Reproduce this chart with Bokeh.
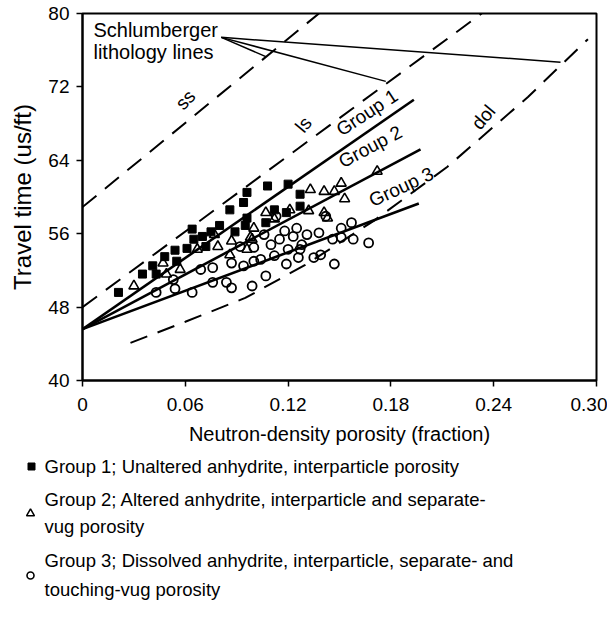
from bokeh.plotting import figure
from bokeh.models import FixedTicker, Range1d
from bokeh.layouts import column
from bokeh.core.properties import value
from bokeh.embed import file_html
from bokeh.resources import INLINE
import math

FONT = "Liberation Sans"

# ---------------- data ----------------
x_ticks = [0, 0.06, 0.12, 0.18, 0.24, 0.30]
x_tick_labels = ["0", "0.06", "0.12", "0.18", "0.24", "0.30"]
y_ticks = [40, 48, 56, 64, 72, 80]

g1_x = [0.021, 0.035, 0.041, 0.043, 0.048, 0.054, 0.055, 0.061, 0.064, 0.065,
        0.070, 0.072, 0.075, 0.080, 0.086, 0.089, 0.094, 0.096, 0.096, 0.095,
        0.108, 0.107, 0.112, 0.120, 0.127, 0.127, 0.119]
g1_y = [49.6, 51.6, 52.5, 51.6, 53.5, 54.2, 53.0, 54.4, 56.5, 55.4,
        55.7, 54.6, 56.2, 56.9, 58.6, 56.2, 59.4, 60.5, 57.7, 56.9,
        61.2, 57.2, 58.6, 61.4, 60.3, 59.0, 58.3]

g2_x = [0.030, 0.047, 0.049, 0.057, 0.067, 0.079, 0.077, 0.087, 0.086, 0.096,
        0.100, 0.107, 0.112, 0.121, 0.133, 0.132, 0.099, 0.141, 0.147, 0.151,
        0.153, 0.141, 0.143, 0.172, 0.098]
g2_y = [50.3, 52.8, 51.6, 52.1, 54.3, 54.6, 55.9, 55.2, 53.7, 54.3,
        56.6, 58.3, 57.6, 58.6, 60.8, 58.5, 55.4, 60.6, 60.6, 61.5,
        59.8, 58.3, 57.7, 62.8, 55.6]

g3_x = [0.043, 0.054, 0.053, 0.064, 0.069, 0.076, 0.076, 0.084, 0.087, 0.087,
        0.094, 0.099, 0.100, 0.104, 0.107, 0.112, 0.119, 0.120, 0.126, 0.127,
        0.135, 0.131, 0.123, 0.118, 0.125, 0.138, 0.110, 0.115, 0.106, 0.100,
        0.092, 0.113, 0.128, 0.139, 0.147, 0.151, 0.157, 0.151, 0.146, 0.158,
        0.167, 0.142]
g3_y = [49.6, 50.0, 51.0, 49.6, 52.1, 52.3, 50.7, 50.7, 50.1, 52.8,
        52.5, 50.3, 53.0, 53.2, 51.4, 53.6, 52.7, 54.3, 53.4, 54.3,
        53.4, 55.9, 55.7, 56.3, 56.6, 56.1, 54.8, 55.4, 55.9, 54.5,
        54.6, 57.9, 54.8, 53.7, 52.7, 56.6, 57.2, 55.6, 55.4, 55.4,
        55.0, 57.9]

# regression lines (start, end)
fit1_x = [0.0, 0.1934]
fit1_y = [45.6, 70.6]
fit2_x = [0.0, 0.1973]
fit2_y = [45.6, 65.2]
fit3_x = [0.0, 0.1963]
fit3_y = [45.6, 59.3]

# Schlumberger lithology lines
ss_x = [0.0, 0.138]
ss_y = [58.9, 80.0]
ls_x = [0.0, 0.233]
ls_y = [48.0, 80.0]
dol_x = [0.028, 0.060, 0.095, 0.130, 0.170, 0.213, 0.260, 0.295]
dol_y = [44.1, 46.4, 49.0, 52.6, 57.4, 63.3, 70.9, 77.2]

# annotation pointer lines: origin and targets on ss, ls, dol
ptr_origin = (0.081, 77.4)
ptr_targets_x = [0.107, 0.177, 0.279]
ptr_targets_y = [75.3, 72.6, 74.7]

legend_labels = [
    ["Group 1; Unaltered anhydrite, interparticle porosity"],
    ["Group 2;  Altered anhydrite, interparticle and separate-", "vug porosity"],
    ["Group 3; Dissolved anhydrite, interparticle, separate- and", "touching-vug porosity"],
]

# ---------------- main figure ----------------
p = figure(width=607, height=450, x_range=Range1d(0, 0.30), y_range=Range1d(40, 80),
           output_backend="svg", toolbar_location=None,
           min_border_left=82, min_border_right=11, min_border_top=13, min_border_bottom=70)
p.frame_align = False
p.background_fill_color = "white"
p.border_fill_color = "white"
p.outline_line_color = "black"
p.outline_line_width = 2
p.grid.visible = False

p.xaxis.ticker = FixedTicker(ticks=x_ticks)
p.xaxis.major_label_overrides = {t: l for t, l in zip(x_ticks, x_tick_labels)}
p.yaxis.ticker = FixedTicker(ticks=y_ticks)
for ax in (p.xaxis, p.yaxis):
    ax.axis_line_width = 2
    ax.axis_line_color = "black"
    ax.major_tick_line_width = 1.5
    ax.major_tick_line_color = "black"
    ax.major_tick_in = 0
    ax.major_tick_out = 6
    ax.minor_tick_line_color = None
    ax.major_label_text_font = FONT
    ax.major_label_text_font_size = "19px"
    ax.major_label_text_color = "black"
    ax.axis_label_text_font = FONT
    ax.axis_label_text_font_style = "normal"
    ax.axis_label_text_color = "black"
p.xaxis.axis_label = "Neutron-density porosity (fraction)"
p.yaxis.axis_label = "Travel time (us/ft)"
p.xaxis.axis_label_text_font_size = "20px"
p.yaxis.axis_label_text_font_size = "24px"
p.xaxis.major_label_standoff = 11
p.yaxis.major_label_standoff = 7
p.xaxis.axis_label_standoff = 9
p.yaxis.axis_label_standoff = 9

dash = "18 11"
p.line(ss_x, ss_y, line_color="black", line_width=2, line_dash=dash)
p.line(ls_x, ls_y, line_color="black", line_width=2, line_dash=dash)
p.line(dol_x, dol_y, line_color="black", line_width=2, line_dash=dash)

for tx, ty in zip(ptr_targets_x, ptr_targets_y):
    p.line([ptr_origin[0], tx], [ptr_origin[1], ty], line_color="black", line_width=1.5)

p.scatter(g3_x, g3_y, marker="circle", size=9, line_color="black", line_width=1.8,
          fill_color=None)
p.scatter(g2_x, g2_y, marker="triangle", size=10, line_color="black", line_width=1.6,
          fill_color=None)
p.scatter(g1_x, g1_y, marker="square", size=8, line_color="black", fill_color="black")

p.line(fit1_x, fit1_y, line_color="black", line_width=2.6)
p.line(fit2_x, fit2_y, line_color="black", line_width=2.6)
p.line(fit3_x, fit3_y, line_color="black", line_width=2.6)

lbl_x = [0.060, 0.129, 0.166, 0.168, 0.186, 0.234]
lbl_y = [70.6, 67.9, 69.2, 65.5, 61.1, 68.7]
lbl_t = ["ss", "ls", "Group 1", "Group 2", "Group 3", "dol"]
lbl_a = [46, 50, 33, 28, 25, 50]
for x, y, t, a in zip(lbl_x, lbl_y, lbl_t, lbl_a):
    p.text(x=[x], y=[y], text=[t], angle=math.radians(a), text_font=value(FONT),
           text_font_size="19px", text_align="center", text_baseline="middle",
           text_color="black")

p.text(x=[0.0064, 0.0064], y=[78.15, 75.75], text=["Schlumberger", "lithology lines"],
       text_font=value(FONT), text_font_size="20px", text_align="left",
       text_baseline="alphabetic", text_color="black")

# ---------------- legend panel ----------------
LW, LH = 607, 160
leg = figure(width=LW, height=LH, x_range=Range1d(0, LW), y_range=Range1d(LH, 0),
             x_axis_type=None, y_axis_type=None,
             output_backend="svg", toolbar_location=None, min_border=0)
leg.frame_align = False
leg.grid.visible = False
leg.outline_line_color = None
leg.background_fill_color = "white"
leg.border_fill_color = "white"

leg.scatter([31], [16], marker="square", size=7, fill_color="black", line_color="black")
leg.scatter([30], [63], marker="triangle", size=8, fill_color=None, line_color="black", line_width=1.5)
leg.scatter([30], [125], marker="circle", size=7, fill_color=None, line_color="black", line_width=1.6)

line_ys = [[16], [49, 76], [110, 139]]
for labels, ys in zip(legend_labels, line_ys):
    leg.text(x=[44] * len(labels), y=ys, text=labels, text_font=value(FONT),
             text_font_size="18.5px", text_align="left", text_baseline="middle",
             text_color="black")

layout = column(p, leg, spacing=0)
open("out.html", "w").write(file_html(layout, INLINE))
